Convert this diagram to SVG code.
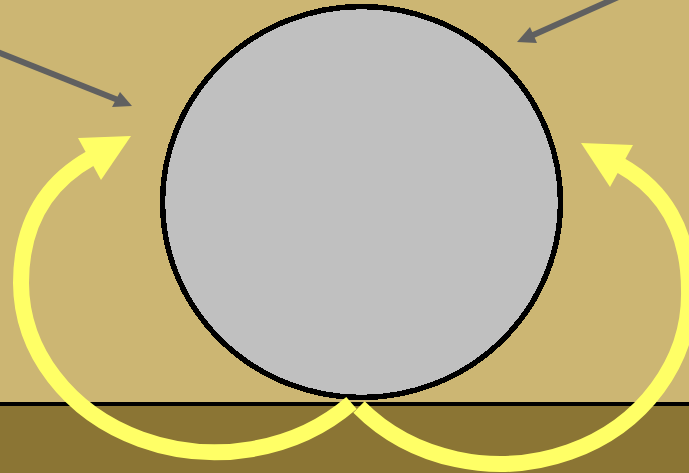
<svg xmlns="http://www.w3.org/2000/svg" width="689" height="473" viewBox="0 0 689 473">
  <style>
    .sky { fill: #CCB673; }
    .ground { fill: #8B7534; }
    .yarc { fill: none; stroke: #FFFF66; stroke-width: 16; stroke-linecap: butt; }
    .yhead { fill: #FFFF66; }
    .garc { fill: none; stroke: #606060; stroke-width: 6; }
    .ghead { fill: #606060; }
  </style>
  <g id="background">
    <rect class="sky" x="0" y="0" width="689" height="473"/>
  </g>
  <g id="ground">
    <rect class="ground" x="0" y="404" width="689" height="69"/>
    <rect x="0" y="402" width="689" height="4" fill="#000"/>
  </g>
  <g id="sphere">
    <ellipse cx="361.5" cy="202" rx="199" ry="195.5" fill="#C0C0C0" stroke="#000" stroke-width="5.5" shape-rendering="crispEdges"/>
  </g>
  <g id="connectors">
    <path class="yarc" d="M 351.5,403 A 194,170 0 0 1 21,283 C 21,220 50,181 91,158"/>
    <polygon class="yhead" points="131,136 78,138 101,180"/>
    <path class="yarc" d="M 359,407 A 189,170 0 0 0 689,290 C 689,230 663,189 620,165"/>
    <polygon class="yhead" points="581,143 633,145 610,187"/>
    <path class="garc" d="M -10,49 L 118,100"/>
    <polygon class="ghead" points="132,106 112,107 120,92"/>
    <path class="garc" d="M 625,-6 L 531,36"/>
    <polygon class="ghead" points="517,42 530,27 537,43"/>
  </g>
</svg>
